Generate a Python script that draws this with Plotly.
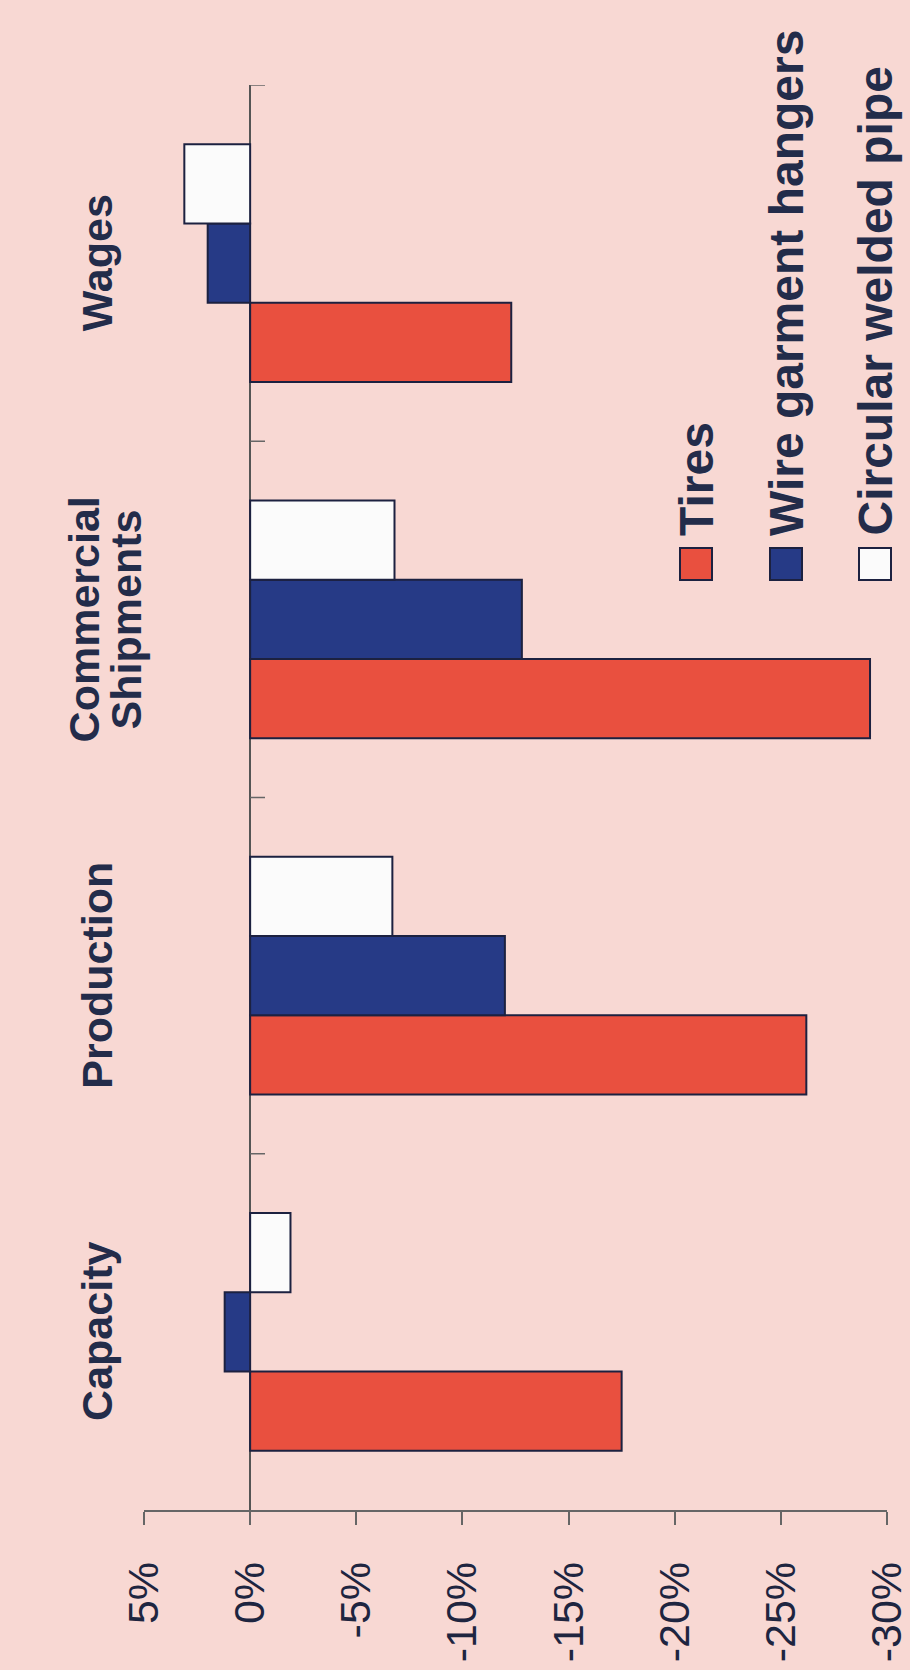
import plotly.graph_objects as go

# ---- data ----
categories = ["Capacity", "Production", "Commercial Shipments", "Wages"]
category_lines = [["Capacity"], ["Production"], ["Commercial", "Shipments"], ["Wages"]]
series_names = ["Tires", "Wire garment hangers", "Circular welded pipe"]
tires = [-17.5, -26.2, -29.2, -12.3]
wire_hangers = [1.2, -12.0, -12.8, 2.0]
welded_pipe = [-1.9, -6.7, -6.8, 3.1]
tick_values = [5, 0, -5, -10, -15, -20, -25, -30]
tick_labels = ["5%", "0%", "-5%", "-10%", "-15%", "-20%", "-25%", "-30%"]

series_values = [tires, wire_hangers, welded_pipe]
series_colors = ["#e9503f", "#263a86", "#fbfbfb"]
outline = "#1c2140"
text_color = "#232c4a"
bg = "#f8d8d3"
FONT = "Liberation Sans, Arial, sans-serif"

W, H = 910, 1670
L, R, T, B = 144, 23, 85, 160
pw, ph = W - L - R, H - T - B


def px_x(px):
    return (px - L) / pw


def px_y(py):
    return (H - B - py) / ph


fig = go.Figure()
for name, vals, col in zip(series_names, series_values, series_colors):
    fig.add_trace(go.Bar(
        y=categories, x=vals, orientation="h", name=name,
        marker=dict(color=col, line=dict(color=outline, width=2)),
        showlegend=False,
    ))

shapes = []
# small ticks on the zero (category) line at category boundaries
for b in [0.5, 1.5, 2.5, 3.5]:
    shapes.append(dict(type="line", xref="x", yref="y", x0=0, x1=-0.7, y0=b, y1=b,
                       line=dict(color="#666666", width=1.5)))

annotations = []
# category labels (rotated)
for cat, lines in zip(categories, category_lines):
    if len(lines) == 1:
        xs = [97]
    else:
        xs = [84, 126]
    for ln, xp in zip(lines, xs):
        annotations.append(dict(
            xref="paper", yref="y", x=px_x(xp), y=cat, text="<b>" + ln + "</b>",
            textangle=-90, showarrow=False, xanchor="center", yanchor="middle",
            font=dict(family=FONT, size=43, color=text_color),
        ))

# legend (rotated, drawn manually)
leg_x = [696, 786, 875]
for name, col, cx in zip(series_names, series_colors, leg_x):
    shapes.append(dict(type="rect", xref="paper", yref="paper",
                       x0=px_x(cx - 16), x1=px_x(cx + 16), y0=px_y(580), y1=px_y(548),
                       fillcolor=col, line=dict(color=outline, width=2)))
    annotations.append(dict(
        xref="paper", yref="paper", x=px_x(cx), y=px_y(538), text="<b>" + name + "</b>",
        textangle=-90, showarrow=False, xanchor="center", yanchor="bottom",
        font=dict(family=FONT, size=48, color=text_color),
    ))

fig.update_layout(
    template="none",
    width=W, height=H,
    margin=dict(l=L, r=R, t=T, b=B, pad=0, autoexpand=False),
    paper_bgcolor=bg, plot_bgcolor="rgba(0,0,0,0)",
    barmode="group", bargap=0.333, bargroupgap=0,
    shapes=shapes, annotations=annotations,
    xaxis=dict(
        range=[5, -30], tickvals=tick_values, ticktext=tick_labels, tickangle=-90,
        ticks="outside", ticklen=13, tickwidth=1.5, tickcolor="#666666",
        showline=True, linecolor="#666666", linewidth=1.5,
        showgrid=False, zeroline=True, zerolinecolor="#555555", zerolinewidth=1.5,
        tickfont=dict(family=FONT, size=43, color="#1e2540"),
        ticklabelstandoff=20, ticklabeloverflow="allow", automargin=False,
    ),
    yaxis=dict(
        type="category", categoryorder="array", categoryarray=categories,
        range=[-0.5, 3.5], showticklabels=False, showgrid=False,
        showline=False, zeroline=False, ticks="", automargin=False,
    ),
)

fig.write_html("out.html")
